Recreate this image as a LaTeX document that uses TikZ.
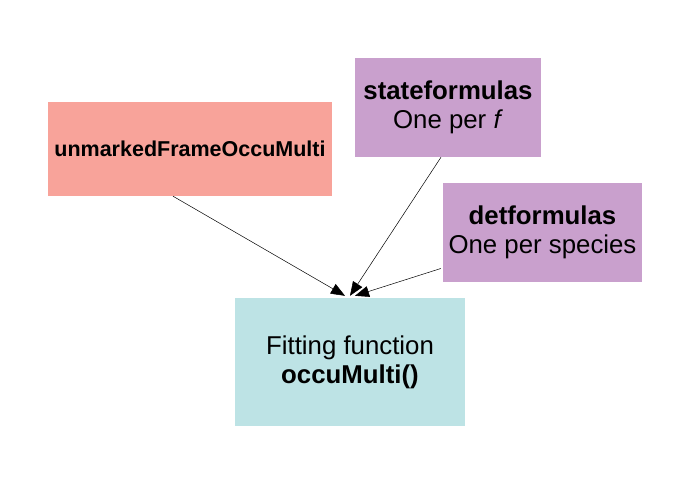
\documentclass[tikz,border=0pt]{standalone}
\usepackage{fontspec}
\setmainfont{Liberation Sans}
\usepackage{tikz}
\usetikzlibrary{arrows.meta,positioning}

\definecolor{framecol}{HTML}{F8A39A}
\definecolor{formcol}{HTML}{C9A0CD}
\definecolor{fitcol}{HTML}{BDE3E5}

\tikzset{
  box/.style={rectangle,inner sep=0pt,align=center,font=\fontsize{25.8}{29}\selectfont},
  arr/.style={-{Triangle[length=14pt,width=11pt]},line width=0.5pt}
}

\begin{document}
\begin{tikzpicture}[x=1pt,y=-1pt]
\useasboundingbox (0,0) rectangle (688,484);

% Input data
\node[box,fill=framecol,minimum width=284pt,minimum height=94pt,
      font=\fontsize{21.5}{24}\selectfont\bfseries] (frame) at (190,149) {unmarkedFrameOccuMulti};

% Formulas
\node[box,fill=formcol,minimum width=186pt,minimum height=99pt] (state) at (448,107.5)
  {\textbf{stateformulas}\\One per \textit{f}};
\node[box,fill=formcol,minimum width=199pt,minimum height=99pt] (det) at (542.5,232.5)
  {\textbf{detformulas}\\One per species};

% Fitting function
\node[box,fill=fitcol,minimum width=230pt,minimum height=128pt] (fit) at (350,362)
  {Fitting function\\\textbf{occuMulti()}};

% Arrows into fitting function
\draw[arr] ([xshift=-17pt]frame.south) -- ([xshift=-5pt,yshift=2pt]fit.north);
\draw[arr] ([xshift=-7pt]state.south) -- ([yshift=2pt]fit.north);
\draw[arr] ([xshift=-2pt,yshift=-36pt]det.west) -- ([xshift=5pt,yshift=2pt]fit.north);

\end{tikzpicture}
\end{document}
